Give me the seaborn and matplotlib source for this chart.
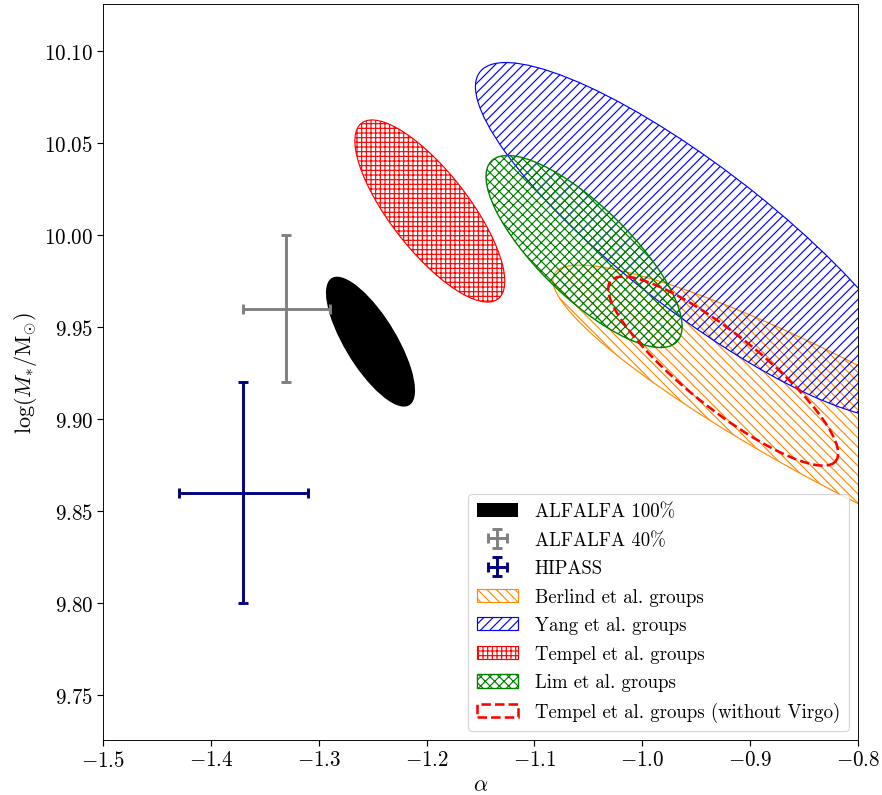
import numpy as np
import matplotlib
matplotlib.use("Agg")
import matplotlib.pyplot as plt
import matplotlib.transforms as mtransforms
from matplotlib.patches import Ellipse, Patch
from matplotlib.ticker import FormatStrFormatter
import seaborn as sns

# Schechter-fit constraints: centre (alpha, log M*), 1-sigma half-extents and correlation
ell_labels = ["ALFALFA 100%", "Berlind et al. groups", "Yang et al. groups",
              "Tempel et al. groups", "Lim et al. groups",
              "Tempel et al. groups (without Virgo)"]
ell_alpha = [-1.252, -0.805, -0.948, -1.197, -1.054, -0.925]
ell_logm = [9.942, 9.893, 9.997, 10.013, 9.991, 9.926]
ell_dalpha = [0.0413, 0.278, 0.2067, 0.0695, 0.0909, 0.1066]
ell_dlogm = [0.0353, 0.0906, 0.0967, 0.0495, 0.0522, 0.0514]
ell_rho = [-0.75, -0.91, -0.864, -0.77, -0.78, -0.87]

# Point estimates with symmetric errors
pt_labels = ["ALFALFA 40%", "HIPASS"]
pt_alpha = [-1.33, -1.37]
pt_alpha_err = [0.04, 0.06]
pt_logm = [9.96, 9.86]
pt_logm_err = [0.04, 0.06]

x_ticks = [-1.5, -1.4, -1.3, -1.2, -1.1, -1.0, -0.9, -0.8]
y_ticks = [9.75, 9.80, 9.85, 9.90, 9.95, 10.00, 10.05, 10.10]

sns.set_style("ticks")
plt.rcParams.update({
    "font.family": "serif",
    "font.serif": ["cmr10", "DejaVu Serif"],
    "mathtext.fontset": "cm",
    "axes.formatter.use_mathtext": True,
    "axes.edgecolor": "black",
    "xtick.color": "black",
    "ytick.color": "black",
    "text.color": "black",
    "axes.labelcolor": "black",
    "hatch.linewidth": 1.0,
    "xtick.direction": "out",
    "ytick.direction": "out",
})

styles = [
    dict(facecolor="black", edgecolor="none", fill=True),
    dict(facecolor="none", edgecolor="darkorange", hatch="\\\\\\", lw=1.0, fill=False),
    dict(facecolor="none", edgecolor="blue", hatch="///", lw=1.0, fill=False),
    dict(facecolor="none", edgecolor="red", hatch="+++", lw=1.0, fill=False),
    dict(facecolor="none", edgecolor="green", hatch="xxx", lw=1.2, fill=False),
    dict(facecolor="none", edgecolor="red", ls="--", lw=2.2, fill=False),
]

fig, ax = plt.subplots(figsize=(10.5, 9.476), dpi=84)
fig.subplots_adjust(left=0.1168, right=0.9728, bottom=0.0691, top=0.9937)


def add_confidence_ellipse(ax, mx, my, sx, sy, rho, **kw):
    # unit-variance ellipse rotated by 45 deg, then scaled to the marginal extents
    e = Ellipse((0, 0), width=2 * np.sqrt(1 + rho), height=2 * np.sqrt(1 - rho), **kw)
    tr = mtransforms.Affine2D().rotate_deg(45).scale(sx, sy).translate(mx, my)
    e.set_transform(tr + ax.transData)
    ax.add_patch(e)
    return e


handles = {}
for lab, mx, my, sx, sy, r, st in zip(ell_labels, ell_alpha, ell_logm,
                                        ell_dalpha, ell_dlogm, ell_rho, styles):
    add_confidence_ellipse(ax, mx, my, sx, sy, r, **st)
    handles[lab] = Patch(**st, label=lab)

pt_colors = ["grey", "navy"]
for lab, x, xe, y, ye, c in zip(pt_labels, pt_alpha, pt_alpha_err, pt_logm, pt_logm_err, pt_colors):
    h = ax.errorbar(x, y, xerr=xe, yerr=ye, fmt="none", ecolor=c,
                    elinewidth=2.5, capsize=4, capthick=2.5, label=lab)
    handles[lab] = h

ax.set_xlim(-1.5, -0.8)
ax.set_ylim(9.7255, 10.1255)
ax.set_xticks(x_ticks)
ax.set_yticks(y_ticks)
ax.xaxis.set_major_formatter(FormatStrFormatter("$%.1f$"))
ax.yaxis.set_major_formatter(FormatStrFormatter("$%.2f$"))
ax.tick_params(labelsize=18, length=5, width=1)
ax.set_xlabel(r"$\alpha$", fontsize=19)
ax.set_ylabel(r"$\log(M_{*}/\mathrm{M}_{\odot})$", fontsize=19)

order = ["ALFALFA 100%", "ALFALFA 40%", "HIPASS", "Berlind et al. groups",
         "Yang et al. groups", "Tempel et al. groups", "Lim et al. groups",
         "Tempel et al. groups (without Virgo)"]
ax.legend([handles[k] for k in order], order,
          loc="lower right", fontsize=16.1, frameon=True,
          handlelength=2.2, handletextpad=0.9, labelspacing=0.56, borderpad=0.45)

fig.savefig("out.png", dpi=84)
